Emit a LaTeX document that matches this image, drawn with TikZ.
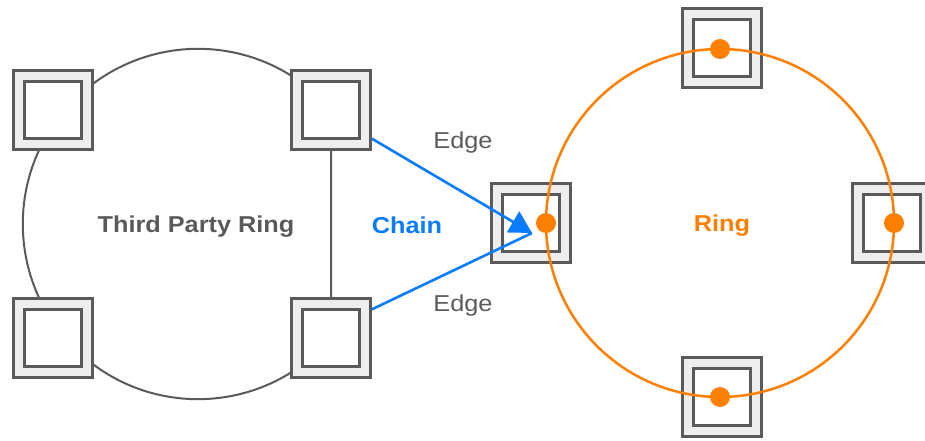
\documentclass[tikz,border=0pt]{standalone}
\usepackage{fontspec}
\setmainfont[FakeStretch=1.1]{Liberation Sans}
\usetikzlibrary{arrows.meta,backgrounds}
\definecolor{LineGray}{HTML}{5A5A5A}
\definecolor{BoxGray}{HTML}{EEEEEE}
\definecolor{ChainBlue}{HTML}{0A7CFF}
\definecolor{RingOrange}{HTML}{FF7F00}

\begin{document}
\begin{tikzpicture}[x=1pt, y=1pt,
  switchbox/.style={draw=LineGray, line width=3pt, fill=BoxGray, inner sep=0pt, minimum size=79pt},
  switchin/.style={draw=LineGray, line width=3pt, fill=white, inner sep=0pt, minimum size=57pt},
  dot/.style={circle, fill=RingOrange, inner sep=0pt, minimum size=20pt},
  chainline/.style={draw=ChainBlue, line width=2.6pt},
  txt/.style={inner sep=0pt, font=\fontsize{23}{27}\selectfont}]
\path[use as bounding box] (0,0) rectangle (925,-441);
\clip (0,0) rectangle (925,-441);

\coordinate (tpc) at (198,-224);
\coordinate (rc) at (720,-223);
\coordinate (tip) at (532,-233);

\node[switchbox] (tp1) at (53,-110) {};
\node[switchin] (tp1in) at (53,-110) {};
\node[switchbox] (tp2) at (331,-110) {};
\node[switchin] (tp2in) at (331,-110) {};
\node[switchbox] (tp3) at (53,-338) {};
\node[switchin] (tp3in) at (53,-338) {};
\node[switchbox] (tp4) at (331,-338) {};
\node[switchin] (tp4in) at (331,-338) {};

\node[switchbox] (r1) at (531,-223) {};
\node[switchin] (r1in) at (531,-223) {};
\node[switchbox] (r2) at (722,-48) {};
\node[switchin] (r2in) at (722,-48) {};
\node[switchbox] (r3) at (892,-223) {};
\node[switchin] (r3in) at (892,-223) {};
\node[switchbox] (r4) at (722,-397) {};
\node[switchin] (r4in) at (722,-397) {};

\begin{scope}[on background layer]
\draw[LineGray, line width=2pt] (tp4.center) arc[start angle=-40.6, end angle=-319.4, radius=175.2] -- cycle;
\end{scope}

\draw[RingOrange, line width=2.5pt] (rc) circle[radius=174];
\node[dot] (d1) at ([shift={(180:174)}]rc) {};
\node[dot] (d2) at ([shift={(90:174)}]rc) {};
\node[dot] (d3) at ([shift={(0:174)}]rc) {};
\node[dot] (d4) at ([shift={(270:174)}]rc) {};

\draw[chainline] (tp4.35) -- (tip);
\draw[chainline, -{Triangle[length=22pt, width=24pt]}] (tp2.-35) -- (tip);

\node[txt, text=LineGray, font=\fontsize{23}{27}\selectfont\bfseries] (tpname) at (196,-227) {Third Party Ring};
\node[txt, text=ChainBlue, font=\fontsize{23}{27}\selectfont\bfseries] (chainname) at (407,-225) {Chain};
\node[txt, text=RingOrange, font=\fontsize{23}{27}\selectfont\bfseries] (ringname) at (722,-226) {Ring};
\node[txt, text=LineGray] (edgetop) at (463,-143) {Edge};
\node[txt, text=LineGray] (edgebot) at (463,-306) {Edge};

\end{tikzpicture}
\end{document}
